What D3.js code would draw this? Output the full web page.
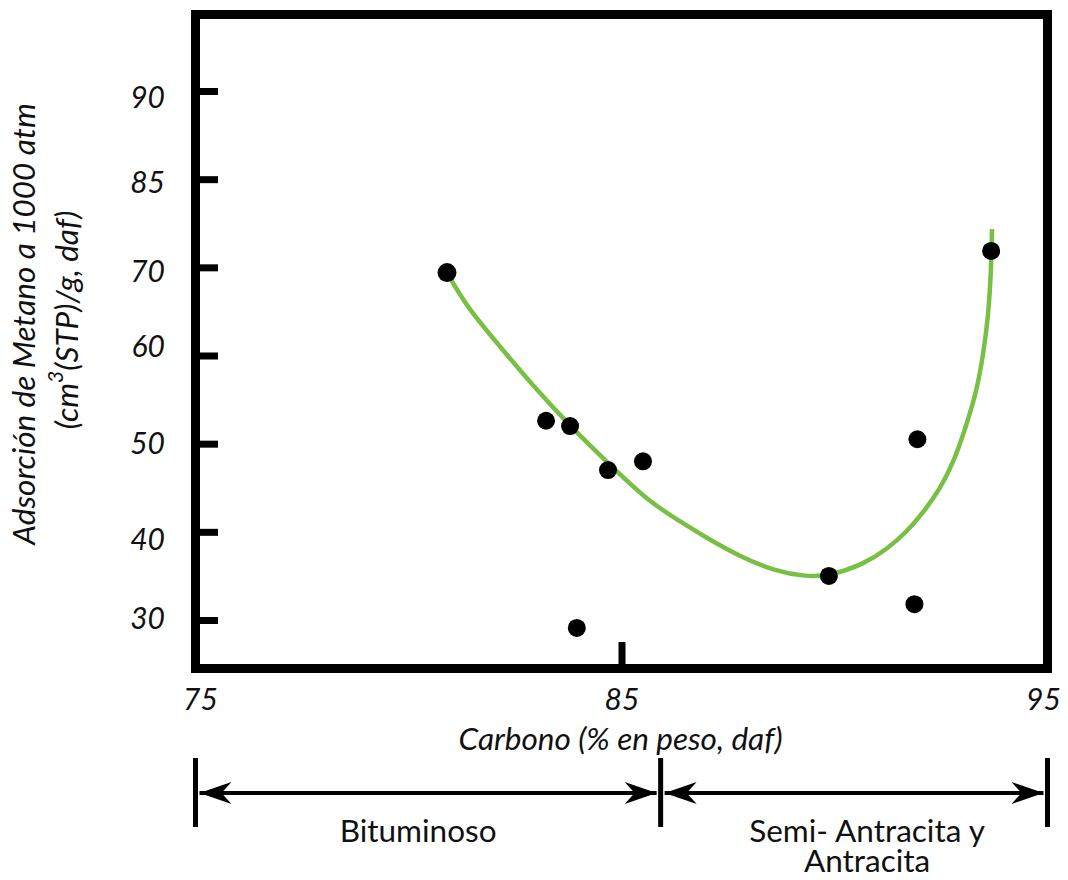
<!DOCTYPE html>
<html>
<head>
<meta charset="utf-8">
<script src="https://cdn.jsdelivr.net/npm/d3@7"></script>
<style>
  body { margin: 0; background: #fff; }
  svg text { font-family: "Lato", "Open Sans", sans-serif; fill: #111; }
</style>
</head>
<body>
<svg id="chart" width="1068" height="880"></svg>
<script>
// Methane adsorption at 1000 atm against carbon content of the coal
const carbon     = [80.86, 83.21, 83.78, 84.68, 85.51, 83.94, 93.77, 92.02, 89.92, 91.95];
const adsorption = [69.4, 52.6, 52.0, 47.0, 48.0, 29.1, 72.8, 50.5, 35.0, 31.8];

// Hand-drawn trend curve through the samples
const trendCarbon     = [80.86, 81.33, 82.12, 82.91, 83.78, 84.68, 85.68, 86.39, 87.02, 87.81, 88.60, 89.39, 89.92, 90.74, 91.29, 91.77, 92.16, 92.56, 92.87, 93.15, 93.43, 93.58, 93.70, 93.77, 93.79];
const trendAdsorption = [69.4, 65.5, 61.0, 56.5, 52.0, 47.8, 43.3, 41.2, 39.3, 37.2, 35.6, 34.9, 35.0, 36.3, 38.0, 40.0, 42.2, 44.9, 47.8, 51.6, 56.0, 60.1, 64.3, 69.7, 76.5];

// Axis tick labels (the vertical axis is evenly spaced by label)
const yTickLabels = [30, 40, 50, 60, 70, 85, 90];
const yLabelShift = [-2, 7, -1, -10, 4, 3, 6];   // small vertical nudges of the printed labels
const xTickLabels = [75, 85, 95];
const xTickMarks  = [85];

// Coal rank bands along the carbon axis
const rankBounds = [75, 86, 95];
const rankNames  = [["Bituminoso"], ["Semi- Antracita y", "Antracita"]];

const svg = d3.select("#chart");

// Plot area (inner edges of the frame)
const plotL = 200, plotR = 1043, plotT = 19, plotB = 664;
const frameW = 9;
const yLow = 620, yStep = (620 - 91) / (yTickLabels.length - 1);
const titleSize = "31.5px";

const x = d3.scaleLinear().domain([75, 95]).range([plotL, plotR]);
const y = d3.scaleLinear()
  .domain(yTickLabels)
  .range(yTickLabels.map((d, i) => yLow - i * yStep));

// Frame
svg.append("rect")
  .attr("x", plotL - frameW / 2).attr("y", plotT - frameW / 2)
  .attr("width", plotR - plotL + frameW).attr("height", plotB - plotT + frameW)
  .attr("fill", "none").attr("stroke", "#000").attr("stroke-width", frameW);

// Y axis: ticks point inward, labels outside the frame
const yAxis = svg.append("g")
  .attr("transform", `translate(${plotL},0)`)
  .call(d3.axisLeft(y).tickValues(yTickLabels).tickFormat(d3.format("d"))
    .tickSizeInner(-18).tickSizeOuter(0).tickPadding(35));
yAxis.select(".domain").remove();
yAxis.selectAll(".tick line").attr("stroke", "#000").attr("stroke-width", 7);
yAxis.selectAll(".tick text")
  .attr("transform", (d, i) => `translate(0,${yLabelShift[i]})`)
  .attr("dy", "0.35em")
  .style("font-size", "30px").style("font-style", "italic").attr("fill", "#111");

// X axis: labels below frame, single inner tick at 85
const xAxis = svg.append("g")
  .attr("transform", `translate(0,${plotB})`)
  .call(d3.axisBottom(x).tickValues(xTickLabels).tickFormat(d3.format("d"))
    .tickSizeInner(-22).tickSizeOuter(0).tickPadding(25));
xAxis.select(".domain").remove();
xAxis.selectAll(".tick line")
  .attr("stroke", "#000").attr("stroke-width", 7)
  .attr("display", d => xTickMarks.includes(d) ? null : "none");
xAxis.selectAll(".tick text")
  .style("font-size", "30px").style("font-style", "italic").attr("fill", "#111");

// Axis titles
svg.append("text")
  .attr("x", (plotL + plotR) / 2 - 1).attr("y", 750)
  .attr("text-anchor", "middle")
  .style("font-size", titleSize).style("font-style", "italic")
  .text("Carbono (% en peso, daf)");

const yTitle = svg.append("g").attr("transform", "translate(0,324) rotate(-90)");
yTitle.append("text")
  .attr("x", 0).attr("y", 35)
  .attr("text-anchor", "middle")
  .style("font-size", titleSize).style("font-style", "italic")
  .text("Adsorción de Metano a 1000 atm");
const t2 = yTitle.append("text")
  .attr("x", 4).attr("y", 78)
  .attr("text-anchor", "middle")
  .style("font-size", titleSize).style("font-style", "italic");
t2.append("tspan").text("(cm");
t2.append("tspan").attr("dy", -15).style("font-size", "21px").text("3");
t2.append("tspan").attr("dy", 15).text("(STP)/g, daf)");

// Trend curve (smoothed through the sampled points)
const line = d3.line()
  .x((d, i) => x(trendCarbon[i]))
  .y((d, i) => y(trendAdsorption[i]))
  .curve(d3.curveBasis);
svg.append("path")
  .datum(trendCarbon)
  .attr("d", line)
  .attr("fill", "none")
  .attr("stroke", "#78c043")
  .attr("stroke-width", 4.5);

// Samples
svg.append("g").selectAll("circle")
  .data(carbon)
  .join("circle")
  .attr("cx", d => x(d))
  .attr("cy", (d, i) => y(adsorption[i]))
  .attr("r", (d, i) => i === 0 ? 9.5 : 9)
  .attr("fill", "#000");

// Rank brackets below the axis
const defs = svg.append("defs");
defs.append("marker")
  .attr("id", "head")
  .attr("markerUnits", "userSpaceOnUse")
  .attr("viewBox", "-34 -12 36 24")
  .attr("refX", 0).attr("refY", 0)
  .attr("markerWidth", 36).attr("markerHeight", 24)
  .attr("orient", "auto-start-reverse")
  .append("path")
  .attr("d", "M0,0 L-32,-11 L-22,0 L-32,11 Z")
  .attr("fill", "#000");

const barX = rankBounds.map((d, i) =>
  i === 0 ? x(d) - frameW / 2 : i === rankBounds.length - 1 ? x(d) + frameW / 2 : x(d) - 3);
const bracketY = 793;

const brackets = svg.append("g");
brackets.selectAll("line.bar")
  .data(barX)
  .join("line")
  .attr("class", "bar")
  .attr("x1", d => d).attr("x2", d => d)
  .attr("y1", 758).attr("y2", 827)
  .attr("stroke", "#000").attr("stroke-width", 5);

brackets.selectAll("line.span")
  .data(rankNames)
  .join("line")
  .attr("class", "span")
  .attr("x1", (d, i) => barX[i] + 4)
  .attr("x2", (d, i) => barX[i + 1] - 4)
  .attr("y1", bracketY).attr("y2", bracketY)
  .attr("stroke", "#000").attr("stroke-width", 4)
  .attr("marker-start", "url(#head)")
  .attr("marker-end", "url(#head)");

const labelX = (d, i) => (barX[i] + barX[i + 1]) / 2 + (i === 0 ? -10 : 13);
brackets.selectAll("text.rank")
  .data(rankNames)
  .join("text")
  .attr("class", "rank")
  .attr("text-anchor", "middle")
  .attr("y", 842)
  .style("font-size", titleSize)
  .each(function (lines, i) {
    d3.select(this).selectAll("tspan")
      .data(lines)
      .join("tspan")
      .attr("x", labelX(lines, i))
      .attr("dy", (d, j) => j === 0 ? 0 : 30)
      .text(d => d);
  });
</script>
</body>
</html>
